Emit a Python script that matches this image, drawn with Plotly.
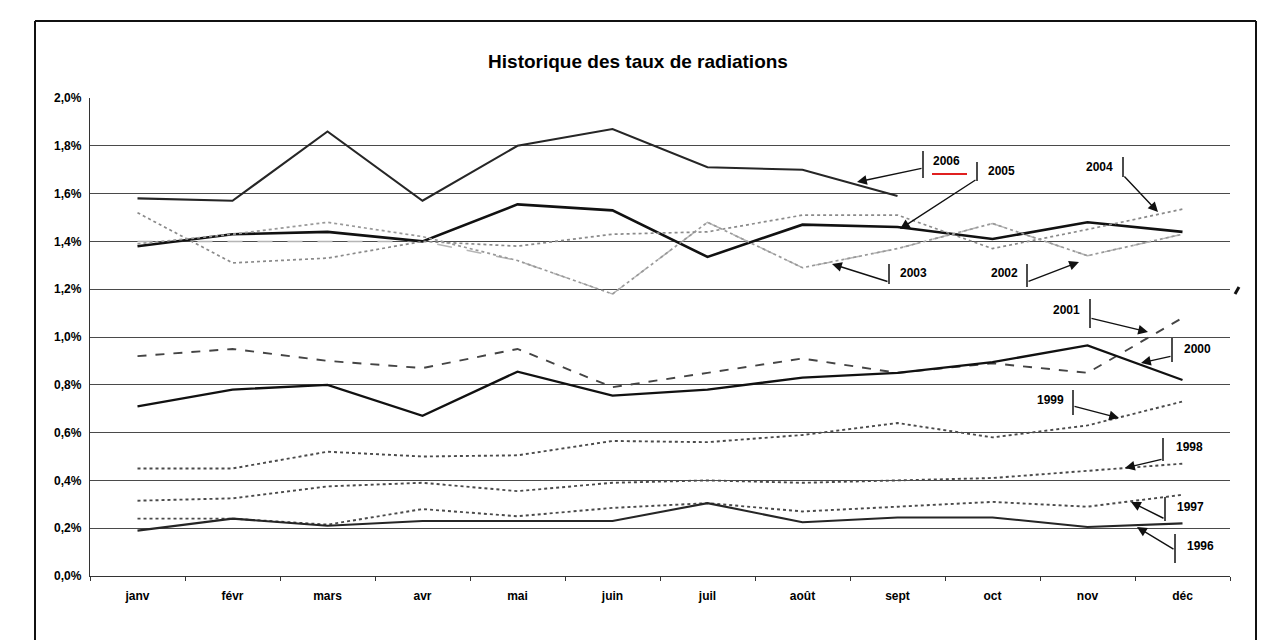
import plotly.graph_objects as go

months = ["janv", "févr", "mars", "avr", "mai", "juin", "juil", "août", "sept", "oct", "nov", "déc"]

# taux de radiations (%)
y2006 = [1.58, 1.57, 1.86, 1.57, 1.80, 1.87, 1.71, 1.70, 1.59]
y2005 = [1.38, 1.43, 1.44, 1.40, 1.555, 1.53, 1.335, 1.47, 1.46, 1.41, 1.48, 1.44]
y2004 = [1.52, 1.31, 1.33, 1.40, 1.38, 1.43, 1.44, 1.51, 1.51, 1.37, 1.45, 1.535]
y2003 = [1.39, 1.43, 1.48, 1.42, 1.32, 1.18, 1.48, 1.29, 1.37, 1.475, 1.34, 1.43]
y2002 = [1.40, 1.40, 1.40, 1.40, 1.32, 1.18, 1.48, 1.29, 1.37, 1.475, 1.34, 1.43]
y2001 = [0.92, 0.95, 0.90, 0.87, 0.95, 0.79, 0.85, 0.91, 0.85, 0.89, 0.85, 1.08]
y2000 = [0.71, 0.78, 0.80, 0.67, 0.855, 0.755, 0.78, 0.83, 0.85, 0.895, 0.965, 0.82]
y1999 = [0.45, 0.45, 0.52, 0.50, 0.505, 0.565, 0.56, 0.59, 0.64, 0.58, 0.63, 0.73]
y1998 = [0.315, 0.325, 0.375, 0.39, 0.355, 0.39, 0.40, 0.39, 0.40, 0.41, 0.44, 0.47]
y1997 = [0.24, 0.24, 0.215, 0.28, 0.25, 0.285, 0.305, 0.27, 0.29, 0.31, 0.29, 0.34]
y1996 = [0.19, 0.24, 0.21, 0.23, 0.23, 0.23, 0.305, 0.225, 0.245, 0.245, 0.205, 0.22]

# drawing order (first = underneath)
years = ["2002", "2006", "2005", "2004", "2003", "2001", "2000", "1999", "1998", "1997", "1996"]
series = [y2002, y2006, y2005, y2004, y2003, y2001, y2000, y1999, y1998, y1997, y1996]

styles = {
    "2006": dict(color="#262626", width=2.1, dash="solid"),
    "2005": dict(color="#111111", width=2.6, dash="solid"),
    "2004": dict(color="#8a8a8a", width=1.7, dash="dot"),
    "2003": dict(color="#999999", width=1.7, dash="dot"),
    "2002": dict(color="#b5b5b5", width=1.5, dash="longdash"),
    "2001": dict(color="#444444", width=1.9, dash="dash"),
    "2000": dict(color="#111111", width=2.3, dash="solid"),
    "1999": dict(color="#4a4a4a", width=1.9, dash="dot"),
    "1998": dict(color="#4a4a4a", width=1.9, dash="dot"),
    "1997": dict(color="#4a4a4a", width=1.9, dash="dot"),
    "1996": dict(color="#262626", width=2.1, dash="solid"),
}

# screen geometry (the page body has an 8px margin)
OFF = 8
W, H = 1278 - OFF, 640 - OFF
L, R, T, B = 90, 1230, 98, 576   # plot area in screen pixels


def px(xp):
    return (xp - L) / (R - L)


def py(yp):
    return (B - yp) / (B - T)


FONT = "Arial, Liberation Sans"

fig = go.Figure()
for yr, vals in zip(years, series):
    fig.add_trace(go.Scatter(
        x=months[:len(vals)], y=[v / 100 for v in vals], mode="lines",
        name=yr, line=styles[yr], showlegend=False, hoverinfo="skip"))

# callouts: label text position, bar (x, y0, y1), arrow tail, arrow head (screen pixels)
callouts = [
    ("2006", (946, 161), (923, 151, 178), (923, 168), (857, 182)),
    ("2005", (1001, 171), (977, 162, 181), (977, 179), (900, 229)),
    ("2004", (1099, 167), (1123, 157, 177), (1123, 175), (1158, 212)),
    ("2003", (913, 273), (889, 264, 284), (889, 282), (832, 264)),
    ("2002", (1004, 273), (1027, 264, 287), (1027, 282), (1079, 262)),
    ("2001", (1066, 310), (1090, 299, 328), (1090, 318), (1148, 332)),
    ("2000", (1197, 349), (1172, 338, 362), (1172, 356), (1141, 363)),
    ("1999", (1050, 400), (1073, 390, 415), (1073, 406), (1119, 418)),
    ("1998", (1189, 447), (1163, 438, 461), (1163, 459), (1125, 468)),
    ("1997", (1190, 507), (1165, 497, 521), (1165, 519), (1131, 502)),
    ("1996", (1200, 546), (1175, 534, 563), (1175, 550), (1137, 527)),
]

annotations = []
shapes = []
for yr, (tx, ty), (bx, by0, by1), (ax_, ay_), (hx, hy) in callouts:
    annotations.append(dict(x=px(tx), y=py(ty), xref="paper", yref="paper",
                            text=yr, showarrow=False,
                            font=dict(family=FONT, size=12, color="black", weight="bold"),
                            xanchor="center", yanchor="middle"))
    shapes.append(dict(type="line", xref="paper", yref="paper",
                       x0=px(bx), x1=px(bx), y0=py(by0), y1=py(by1),
                       line=dict(color="#111", width=1.5)))
    annotations.append(dict(x=px(hx), y=py(hy), xref="paper", yref="paper",
                            ax=ax_ - hx, ay=ay_ - hy, axref="pixel", ayref="pixel",
                            text="", showarrow=True, arrowhead=2, arrowsize=1.4,
                            arrowwidth=1.4, arrowcolor="#111", standoff=0))

# red underline under 2006
shapes.append(dict(type="line", xref="paper", yref="paper",
                   x0=px(932), x1=px(967), y0=py(174), y1=py(174),
                   line=dict(color="#e02020", width=2)))

# scanned-page frame and a small ink mark on the right
for (x0, y0, x1, y1, w) in [(35, 21, 1256, 21, 2), (35, 21, 35, 640, 2),
                            (1256, 21, 1256, 640, 2), (1235, 294, 1239, 287, 3)]:
    shapes.append(dict(type="line", xref="paper", yref="paper",
                       x0=px(x0), x1=px(x1), y0=py(y0), y1=py(y1),
                       line=dict(color="#111", width=w)))

fig.update_layout(
    width=W, height=H,
    margin=dict(l=L - OFF, r=W - (R - OFF), t=T - OFF, b=H - (B - OFF), pad=0),
    paper_bgcolor="white", plot_bgcolor="white",
    separators=", ",
    title=dict(text="<b>Historique des taux de radiations</b>", x=(638 - OFF) / W, xanchor="center",
               y=1 - (61 - OFF) / H, yanchor="middle",
               font=dict(family=FONT, size=19, color="black")),
    xaxis=dict(type="category", range=[-0.5, 11.5], showgrid=False,
               showline=True, linecolor="#333", linewidth=1.3,
               ticks="outside", ticklen=4, tickcolor="#333", tickson="boundaries",
               tickfont=dict(family=FONT, size=12, color="black", weight="bold"),
               ticklabelstandoff=8, fixedrange=True),
    yaxis=dict(range=[0, 0.02], tickvals=[i * 0.002 for i in range(11)],
               tickformat=".1%", showgrid=True, gridcolor="#4a4a4a", gridwidth=1.2,
               showline=True, linecolor="#333", linewidth=1.3, zeroline=False,
               ticks="", tickfont=dict(family=FONT, size=12, color="black", weight="bold"),
               ticklabelstandoff=5, fixedrange=True),
    annotations=annotations,
    shapes=shapes,
)

fig.write_html("out.html")
